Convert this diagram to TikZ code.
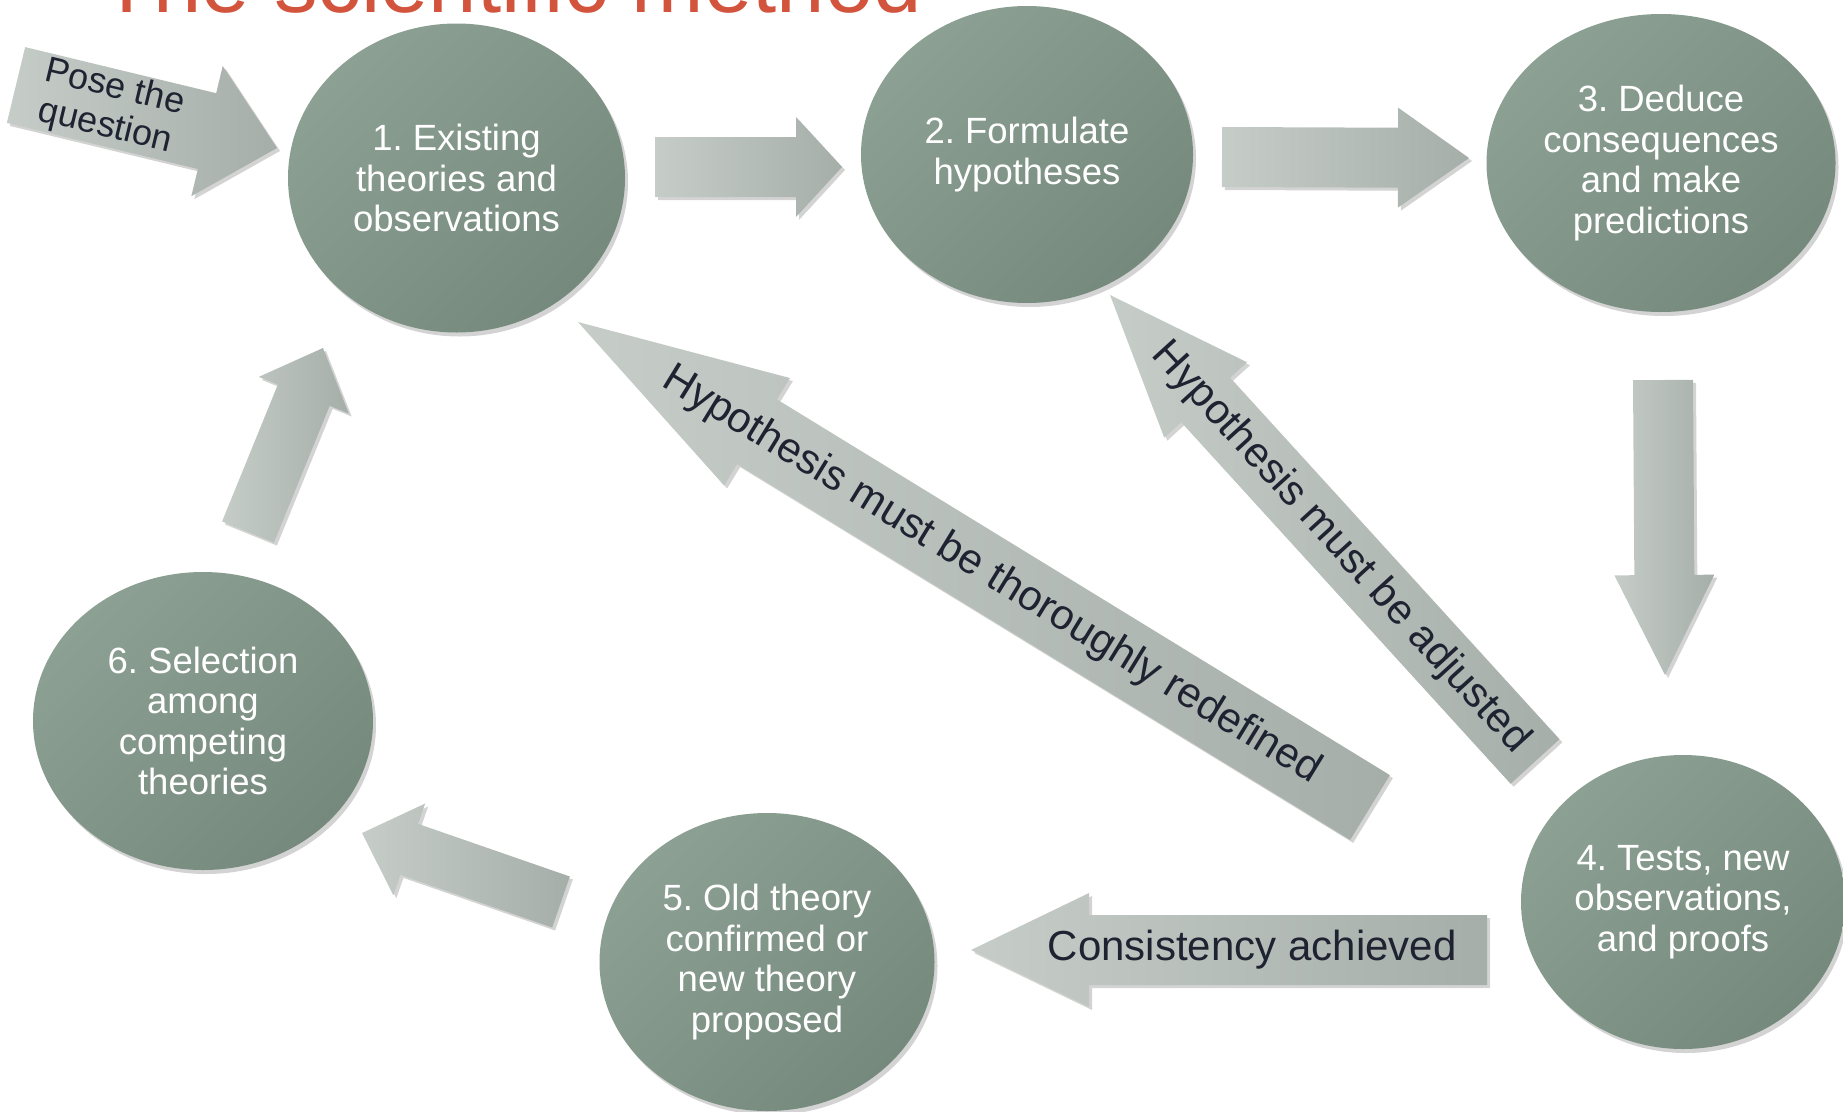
\documentclass[tikz,border=0pt]{standalone}
\usepackage{fontspec}
\setmainfont{Liberation Sans}
\usetikzlibrary{calc,shapes.geometric,shadows}
\definecolor{ellL}{HTML}{8DA094}
\definecolor{ellD}{HTML}{76897D}
\definecolor{arrL}{HTML}{C6CDC8}
\definecolor{arrD}{HTML}{A6AEA9}
\definecolor{txtD}{HTML}{1F2231}
\definecolor{titlered}{HTML}{D3543D}
\frenchspacing

\tikzset{
  ell/.style={ellipse, inner sep=0pt, align=center, text=white,
    font=\fontsize{36.5}{40.5}\selectfont,
    top color=ellL, bottom color=ellD, shading angle=45,
    drop shadow={shadow xshift=3pt, shadow yshift=-4pt, opacity=0.35}},
  barrow/.style={left color=arrL, right color=arrD,
    drop shadow={shadow xshift=3pt, shadow yshift=-3pt, opacity=0.35}},
  alabel/.style={text=txtD, font=\fontsize{42}{46}\selectfont, inner sep=0pt, align=center},
}

% block arrow between two named coordinates
\newcommand\blockarrow[5]{%
  \coordinate (#1#2n) at ($(#2)!#5!(#1)$);
  \path[barrow] ($(#1)!#3!90:(#2)$) -- ($(#1#2n)!#3!90:(#2)$) -- ($(#1#2n)!#4!90:(#2)$) -- (#2)
     -- ($(#1#2n)!#4!-90:(#2)$) -- ($(#1#2n)!#3!-90:(#2)$) -- ($(#1)!#3!-90:(#2)$) -- cycle;
}
% label along a block arrow
\newcommand\arrowlabel[6][]{%
  \path let \p1=($(#3)-(#2)$), \n1={atan2(\y1,\x1)+#5} in
    ($(#2)!#4!(#3)$) node[alabel, rotate=\n1, #1] (#2#3lbl) {#6};
}

\begin{document}
\begin{tikzpicture}[x=1pt, y=-1pt]
\useasboundingbox (0,0) rectangle (1843,1111);

% title (cut at top)
\node[anchor=base west, inner sep=0pt, text=titlered, font=\fontsize{87}{90}\selectfont] (title) at (100,12) {The scientific method};

% ellipses
\node[ell, minimum width=337pt, minimum height=309pt] (n1) at (456.5,178) {1. Existing\\theories and\\observations};
\node[ell, minimum width=332pt, minimum height=297pt] (n2) at (1027,154.5) {2. Formulate\\hypotheses};
\node[ell, minimum width=349pt, minimum height=298pt] (n3) at (1661,163) {3. Deduce\\consequences\\and make\\predictions};
\node[ell, minimum width=324pt, minimum height=294pt] (n4) at (1683,902) {4. Tests, new\\observations,\\and proofs};
\node[ell, minimum width=335pt, minimum height=298pt] (n5) at (767,962) {5. Old theory\\confirmed or\\new theory\\proposed};
\node[ell, minimum width=340pt, minimum height=298pt] (n6) at (203,721) {6. Selection\\among\\competing\\theories};

% arrow end points
\coordinate (qs) at (16,85);      \coordinate (qe) at (277,148);
\coordinate (as) at (655,167);    \coordinate (ae) at (842,167);
\coordinate (bs) at (1222,157);   \coordinate (be) at (1469,158);
\coordinate (cs) at (1663,380);   \coordinate (ce) at (1665,675);
\coordinate (ds) at (1535,761.5); \coordinate (de) at (1110,295);
\coordinate (rs) at (1370,807.5); \coordinate (re) at (578,322);
\coordinate (ks) at (1487,950);   \coordinate (ke) at (971,950);
\coordinate (fs) at (561,902);    \coordinate (fe) at (362,833);
\coordinate (gs) at (248,532);    \coordinate (ge) at (323,348);

% arrows
\blockarrow{qs}{qe}{39pt}{67pt}{72pt}
\blockarrow{as}{ae}{30pt}{50pt}{46pt}
\blockarrow{bs}{be}{30pt}{50pt}{71pt}
\blockarrow{cs}{ce}{30pt}{50pt}{100pt}
\blockarrow{rs}{re}{38pt}{63pt}{210pt}
\blockarrow{ds}{de}{33pt}{56pt}{142pt}
\blockarrow{ks}{ke}{35pt}{57pt}{118pt}
\blockarrow{fs}{fe}{27pt}{48.5pt}{50pt}
\blockarrow{gs}{ge}{28pt}{48.6pt}{51pt}

% arrow labels
\arrowlabel[font=\fontsize{36}{40}\selectfont]{qs}{qe}{0.36}{0}{Pose the\\question}
\arrowlabel{ds}{de}{0.458}{180}{Hypothesis must be adjusted}
\arrowlabel{rs}{re}{0.478}{180}{Hypothesis must be thoroughly redefined}
\arrowlabel{ks}{ke}{0.455}{180}{Consistency achieved}
\end{tikzpicture}
\end{document}
